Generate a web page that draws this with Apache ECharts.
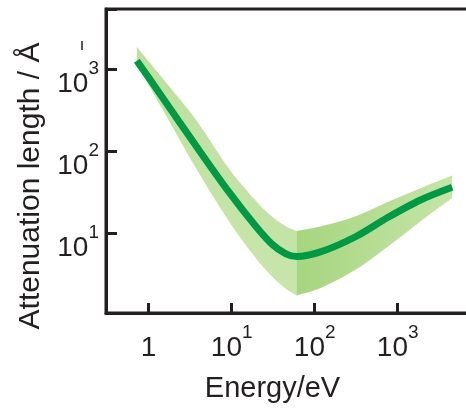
<!DOCTYPE html>
<html>
<head>
<meta charset="utf-8">
<script src="https://cdn.jsdelivr.net/npm/echarts@6/dist/echarts.min.js"></script>
<style>
html,body{margin:0;padding:0;background:#fff;overflow:hidden;}
#chart{width:476px;height:408px;}
</style>
</head>
<body>
<div id="chart"></div>
<script>
// ---- data ----
const energy      = [0.72, 1.47, 3.75, 9.3, 19.5, 30.3, 44.5, 60.3, 120, 306, 757, 1880, 4530];
const attenuation = [1280, 452, 115, 31.6, 12.1, 7.39, 5.62, 5.18, 5.94, 8.96, 15.5, 25.4, 36.3];
const bandUpper   = [1880, 781, 240, 61, 24.9, 16.1, 12.2, 10.6, 12.1, 15.9, 24.0, 35.3, 50.4];
const bandLower   = [1180, 325, 61, 13.9, 4.96, 2.99, 2.10, 1.73, 2.15, 3.53, 6.81, 13.9, 26.8];
const bandSplitIndex = 7; // shading changes at this energy
const xTicks = [1, 10, 100, 1000];
const yTicks = [10, 100, 1000];
const xTitle = 'Energy/eV';
const yTitle = 'Attenuation length / Å';

const INK = '#231f20';
const FONT = '"Liberation Sans", Arial, sans-serif';

function isTick(v, list) {
  return list.some(t => Math.abs(Math.log10(v) - Math.log10(t)) < 1e-6);
}
function powLabel(list) {
  return function (v) {
    if (!isTick(v, list)) return '';
    const e = Math.round(Math.log10(v));
    if (e === 0) return '{b|1}';
    return '{b|10}{s|' + e + '}';
  };
}
const rich = {
  b: {fontSize: 28, lineHeight: 50, fontFamily: FONT, color: INK},
  s: {fontSize: 19, lineHeight: 19, verticalAlign: 'top', fontFamily: FONT, color: INK}
};

function smoothPath(pts) {
  let d = '';
  for (let i = 0; i < pts.length - 1; i++) {
    const p0 = pts[Math.max(i - 1, 0)], p1 = pts[i], p2 = pts[i + 1], p3 = pts[Math.min(i + 2, pts.length - 1)];
    const c1 = [p1[0] + (p2[0] - p0[0]) / 6, p1[1] + (p2[1] - p0[1]) / 6];
    const c2 = [p2[0] - (p3[0] - p1[0]) / 6, p2[1] - (p3[1] - p1[1]) / 6];
    d += ' C' + c1[0] + ',' + c1[1] + ' ' + c2[0] + ',' + c2[1] + ' ' + p2[0] + ',' + p2[1];
  }
  return d;
}
function bandPath(api, from, to) {
  const up = [], lo = [];
  for (let i = from; i <= to; i++) {
    up.push(api.coord([energy[i], bandUpper[i]]));
    lo.push(api.coord([energy[i], bandLower[i]]));
  }
  lo.reverse();
  return 'M' + up[0][0] + ',' + up[0][1] + smoothPath(up) +
         ' L' + lo[0][0] + ',' + lo[0][1] + smoothPath(lo) + ' Z';
}

const chart = echarts.init(document.getElementById('chart'), null, {renderer: 'canvas'});
chart.setOption({
  animation: false,
  backgroundColor: '#fff',
  grid: {left: 106, top: 9, right: 0, bottom: 87, show: true, borderColor: INK, borderWidth: 3, containLabel: false},
  xAxis: {
    type: 'log', logBase: 10, min: 0.3064, max: 8068,
    name: xTitle, nameLocation: 'middle', nameGap: 61,
    nameTextStyle: {fontSize: 29, fontFamily: FONT, color: INK, padding: [0, 34, 0, 0]},
    axisLine: {lineStyle: {color: INK, width: 3}},
    axisTick: {inside: true, length: 10, lineStyle: {color: INK, width: 3}},
    axisLabel: {formatter: powLabel(xTicks), rich: rich, margin: 10, color: INK},
    splitLine: {show: false}, minorTick: {show: false}
  },
  yAxis: {
    type: 'log', logBase: 10, min: 1.056, max: 5470,
    name: yTitle, nameLocation: 'middle', nameGap: 60,
    nameTextStyle: {fontSize: 30, fontFamily: FONT, color: INK, padding: [0, 50, 0, 0]},
    axisLine: {lineStyle: {color: INK, width: 3}},
    axisTick: {inside: true, length: 11, lineStyle: {color: INK, width: 3}},
    axisLabel: {formatter: powLabel(yTicks), rich: rich, margin: 7, color: INK, padding: [30, 0, 0, 0]},
    splitLine: {show: false}, minorTick: {show: false}
  },
  series: [
    {
      type: 'custom', name: 'band', z: 1, clip: true,
      data: [[energy[0], bandUpper[0]]],
      renderItem: function (params, api) {
        return {
          type: 'group',
          children: [
            {type: 'path', shape: {pathData: bandPath(api, 0, bandSplitIndex)},
             style: {fill: {type: 'linear', x: 0, y: 1, x2: 1, y2: 0,
               colorStops: [{offset: 0, color: '#cfe9b5'}, {offset: 1, color: '#b6dd94'}]}}},
            {type: 'path', shape: {pathData: bandPath(api, bandSplitIndex, energy.length - 1)},
             style: {fill: {type: 'linear', x: 0, y: 0, x2: 1, y2: 0,
               colorStops: [{offset: 0, color: '#a6d57f'}, {offset: 1, color: '#c6e5a8'}]}}}
          ]
        };
      }
    },
    {
      type: 'line', name: 'attenuation', z: 3,
      data: energy.map((e, i) => [e, attenuation[i]]),
      smooth: 0.3, symbol: 'none',
      lineStyle: {color: '#009a44', width: 7, cap: 'butt'}
    }
  ],
  graphic: [
    {type: 'line', shape: {x1: 82, y1: 41, x2: 82, y2: 50}, style: {stroke: INK, lineWidth: 1.5}}
  ]
});
</script>
</body>
</html>
